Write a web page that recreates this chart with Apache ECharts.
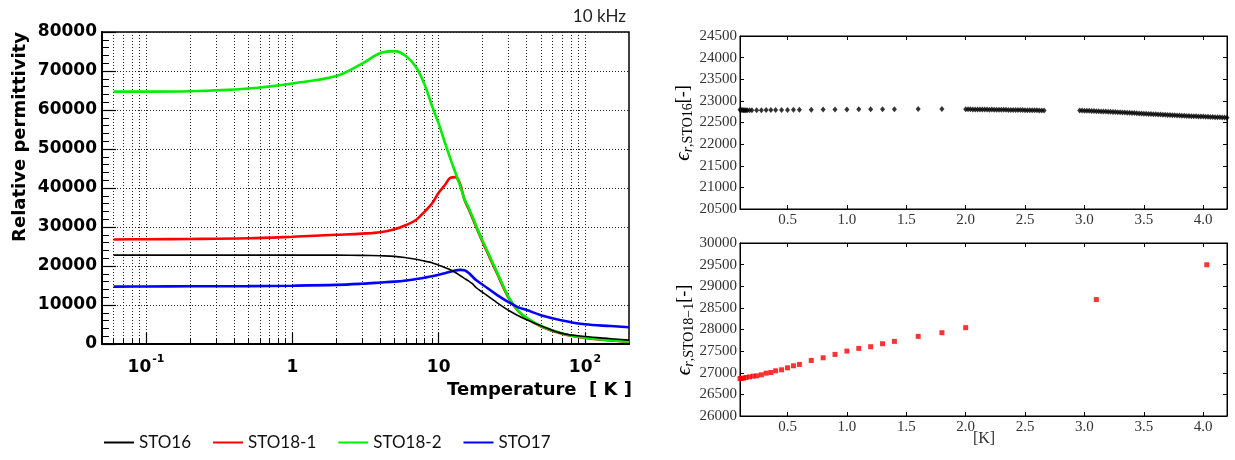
<!DOCTYPE html>
<html>
<head>
<meta charset="utf-8">
<script src="https://cdn.jsdelivr.net/npm/echarts@6/dist/echarts.min.js"></script>
<style>
  html, body { margin: 0; padding: 0; background: #fff; }
  #chart { width: 1235px; height: 460px; }
</style>
</head>
<body>
<div id="chart"></div>
<script>
// ---- Relative permittivity vs temperature, 10 kHz (log temperature axis) ----
const tempK = [0.06, 0.1, 0.2, 0.5, 1, 2, 3, 4, 5, 6, 7, 8, 9, 10, 11, 12, 13, 14, 15, 16, 17, 18, 20, 25, 30, 35, 40, 50, 70, 100, 150, 200];
const sto16 = [22800, 22800, 22800, 22800, 22800, 22780, 22720, 22620, 22480, 22120, 21710, 21250, 20840, 20200, 19610, 19060, 18340, 17560, 16840, 16170, 15470, 14490, 13230, 10630, 8650, 7240, 6200, 4680, 2720, 1910, 1360, 1000];
const sto18_1 = [26800, 26870, 26920, 27100, 27500, 28000, 28300, 28650, 29400, 30500, 31800, 33900, 36000, 38800, 40700, 42600, 42800, 41100, 37000, 34700, 32400, 30100, 26100, 18200, 11900, 8400, 6600, 4500, 2650, 1550, 900, 580];
const sto18_2 = [64700, 64700, 64800, 65500, 66800, 68700, 71900, 74600, 75100, 73800, 71000, 66600, 61100, 56500, 51800, 47600, 44000, 40600, 37200, 35000, 32700, 30400, 26400, 18500, 12100, 8500, 6700, 4600, 2700, 1600, 950, 600];
const sto17 = [14700, 14750, 14800, 14850, 14950, 15150, 15450, 15750, 16000, 16300, 16650, 17000, 17350, 17750, 18150, 18550, 18850, 19000, 18900, 18250, 17300, 16400, 15200, 12600, 10750, 9400, 8700, 7400, 6050, 5050, 4600, 4300];

const seriesNames = ['STO16', 'STO18-1', 'STO18-2', 'STO17'];
const decadeTicks = [0.1, 1, 10, 100];
const minorTicks = [0.06, 0.07, 0.08, 0.09, 0.2, 0.3, 0.4, 0.5, 0.6, 0.7, 0.8, 0.9,
  2, 3, 4, 5, 6, 7, 8, 9, 20, 30, 40, 50, 60, 70, 80, 90];

// ---- Low-temperature detail: STO16 ----
const sto16LowT = [0.10, 0.11, 0.12, 0.13, 0.14, 0.15, 0.16, 0.18, 0.20, 0.24, 0.28, 0.32, 0.36, 0.40, 0.45, 0.50, 0.55, 0.60, 0.70, 0.80, 0.90, 1.00, 1.10, 1.20, 1.30, 1.40, 1.60, 1.80,
  2.00, 2.02, 2.04, 2.06, 2.08, 2.10, 2.12, 2.14, 2.16, 2.18, 2.20, 2.22, 2.24, 2.26, 2.28, 2.30, 2.32, 2.34, 2.36, 2.38, 2.40, 2.42, 2.44, 2.46, 2.48, 2.50, 2.52, 2.54, 2.56, 2.58, 2.60, 2.62, 2.64, 2.66,
  2.96, 2.98, 3.00, 3.02, 3.04, 3.06, 3.08, 3.10, 3.12, 3.14, 3.16, 3.18, 3.20, 3.22, 3.24, 3.26, 3.28, 3.30, 3.32, 3.34, 3.36, 3.38, 3.40, 3.42, 3.44, 3.46, 3.48, 3.50, 3.52, 3.54, 3.56, 3.58, 3.60,
  3.62, 3.64, 3.66, 3.68, 3.70, 3.72, 3.74, 3.76, 3.78, 3.80, 3.82, 3.84, 3.86, 3.88, 3.90, 3.92, 3.94, 3.96, 3.98, 4.00, 4.02, 4.04, 4.06, 4.08, 4.10, 4.12, 4.14, 4.16, 4.18, 4.20];
const sto16LowEps = [22795, 22790, 22788, 22786, 22785, 22784, 22784, 22784, 22784, 22785, 22786, 22787, 22788, 22789, 22790, 22791, 22792, 22793, 22796, 22798, 22801, 22803, 22805, 22806, 22807, 22808, 22810, 22810,
  22805, 22806, 22804, 22803, 22803, 22801, 22802, 22800, 22799, 22799, 22797, 22798, 22796, 22795, 22796, 22794, 22793, 22793, 22791, 22790, 22791, 22789, 22788, 22787, 22787, 22785, 22784, 22784, 22782, 22781, 22781, 22779, 22778, 22777,
  22777, 22775, 22774, 22771, 22770, 22766, 22765, 22762, 22760, 22757, 22755, 22752, 22750, 22746, 22745, 22741, 22739, 22735, 22733, 22729, 22727, 22723, 22721, 22717, 22715, 22710, 22708, 22704, 22702, 22698, 22696, 22692, 22690,
  22686, 22684, 22680, 22678, 22674, 22672, 22668, 22667, 22663, 22661, 22657, 22656, 22652, 22651, 22647, 22646, 22642, 22641, 22637, 22636, 22633, 22631, 22628, 22627, 22623, 22622, 22619, 22618, 22615, 22612];

// ---- Low-temperature detail: STO18-1 ----
const sto18LowT = [0.10, 0.11, 0.13, 0.15, 0.18, 0.21, 0.24, 0.28, 0.32, 0.36, 0.40, 0.45, 0.50, 0.55, 0.60, 0.70, 0.80, 0.90, 1.00, 1.10, 1.20, 1.30, 1.40, 1.60, 1.80, 2.00, 3.10, 4.03];
const sto18LowEps = [26865, 26867, 26875, 26890, 26905, 26921, 26928, 26952, 26990, 27006, 27045, 27068, 27114, 27161, 27192, 27284, 27346, 27424, 27501, 27563, 27602, 27671, 27725, 27841, 27926, 28043, 28692, 29497];
const lowTTicks = [0.5, 1.0, 1.5, 2.0, 2.5, 3.0, 3.5, 4.0];

const colors = { STO16: '#000000', 'STO18-1': '#ff0000', 'STO18-2': '#00ee00', STO17: '#0000ff' };

function pairs(xs, ys) { return xs.map((x, i) => [x, ys[i]]); }
const plain = v => String(v);

const dotted = { show: true, lineStyle: { color: '#222', width: 1, type: [1, 2] } };
const serif = '"Liberation Serif", "DejaVu Serif", serif';
const boldSans = '"DejaVu Sans", sans-serif';

function lowTXAxis(gridIndex, position) {
  const bottom = position === 'bottom';
  return {
    gridIndex, type: 'value', min: 0.1, max: 4.2, position,
    axisLine: { show: true, lineStyle: { color: '#000', width: 1 } },
    axisTick: { show: true, inside: true, length: 4, customValues: lowTTicks, lineStyle: { color: '#000' } },
    axisLabel: { show: bottom, customValues: lowTTicks, formatter: v => v.toFixed(1),
      fontFamily: serif, fontSize: 15, color: '#333', margin: 4 },
    splitLine: { show: false }
  };
}
function lowTYAxis(gridIndex, position, min, max) {
  const left = position === 'left';
  return {
    gridIndex, type: 'value', min, max, interval: 500, position,
    axisLine: { show: true, lineStyle: { color: '#000', width: 1 } },
    axisTick: { show: true, inside: true, length: 4, lineStyle: { color: '#000' } },
    axisLabel: { show: left, formatter: plain, fontFamily: serif, fontSize: 15, color: '#333', margin: 3 },
    splitLine: { show: false }
  };
}

const mainSeries = [sto16, sto18_1, sto18_2, sto17].map((vals, i) => ({
  name: seriesNames[i], type: 'line', xAxisIndex: 0, yAxisIndex: 0,
  data: pairs(tempK, vals), smooth: 0.35, showSymbol: false, symbol: 'none',
  lineStyle: { color: colors[seriesNames[i]], width: i === 0 ? 1.6 : 2.6 },
  itemStyle: { color: colors[seriesNames[i]] }, z: i === 0 ? 4 : 3
}));

const subTitleRich = {
  e: { fontFamily: serif, fontStyle: 'italic', fontSize: 21, lineHeight: 24, color: '#333', verticalAlign: 'middle' },
  s: { fontFamily: serif, fontStyle: 'italic', fontSize: 14, lineHeight: 15, color: '#333', verticalAlign: 'bottom' },
  t: { fontFamily: serif, fontSize: 14, lineHeight: 15, color: '#333', verticalAlign: 'bottom' },
  b: { fontFamily: serif, fontSize: 18, lineHeight: 24, color: '#333', verticalAlign: 'middle' }
};

const option = {
  animation: false,
  backgroundColor: '#fff',
  grid: [
    { left: 102, top: 32, width: 527, height: 312, show: true, borderColor: '#000', borderWidth: 1.5, backgroundColor: 'transparent' },
    { left: 740, top: 36, width: 487, height: 173, show: true, borderColor: '#000', borderWidth: 1 },
    { left: 740, top: 243, width: 487, height: 173, show: true, borderColor: '#000', borderWidth: 1 }
  ],
  xAxis: [
    {
      gridIndex: 0, type: 'log', logBase: 10, min: 0.05, max: 200, position: 'bottom',
      axisLine: { show: true, lineStyle: { color: '#000', width: 2 } },
      axisTick: { show: true, inside: true, length: 11, customValues: decadeTicks, lineStyle: { color: '#000', width: 1.2 } },
      axisLabel: {
        customValues: decadeTicks, margin: 10,
        formatter: v => {
          const p = Math.round(Math.log10(v));
          if (p === 0) return '{b|1}';
          if (p === 1) return '{b|10}';
          return '{b|10}{s|' + p + '}';
        },
        rich: {
          b: { fontFamily: boldSans, fontWeight: 'bold', fontSize: 17, color: '#000', lineHeight: 22, verticalAlign: 'bottom' },
          s: { fontFamily: boldSans, fontWeight: 'bold', fontSize: 11, color: '#000', lineHeight: 22, verticalAlign: 'top', padding: [0, 0, 0, 1] }
        }
      },
      splitLine: dotted
    },
    {
      gridIndex: 0, type: 'log', logBase: 10, min: 0.05, max: 200, position: 'bottom',
      axisLine: { show: false },
      axisTick: { show: true, inside: true, length: 6, customValues: minorTicks, lineStyle: { color: '#000', width: 1 } },
      axisLabel: { show: false },
      splitLine: dotted
    },
    lowTXAxis(1, 'bottom'), lowTXAxis(1, 'top'),
    lowTXAxis(2, 'bottom'), lowTXAxis(2, 'top')
  ],
  yAxis: [
    {
      gridIndex: 0, type: 'value', min: 0, max: 80000, interval: 10000,
      axisLine: { show: true, lineStyle: { color: '#000', width: 2 } },
      axisTick: { show: true, inside: true, length: 14, lineStyle: { color: '#000', width: 1.2 } },
      minorTick: { show: true, splitNumber: 5, length: 7, lineStyle: { color: '#000', width: 1 } },
      axisLabel: { formatter: plain, fontFamily: boldSans, fontWeight: 'bold', fontSize: 17, color: '#000', margin: 5 },
      splitLine: dotted
    },
    lowTYAxis(1, 'left', 20500, 24500), lowTYAxis(1, 'right', 20500, 24500),
    lowTYAxis(2, 'left', 26000, 30000), lowTYAxis(2, 'right', 26000, 30000)
  ],
  legend: {
    data: seriesNames, left: 99, top: 429, orient: 'horizontal',
    icon: 'rect', itemWidth: 30, itemHeight: 2, itemGap: 22, selectedMode: false,
    textStyle: { fontFamily: 'Lato', fontSize: 17, color: '#111' }
  },
  graphic: [
    { type: 'text', x: 20, y: 137, rotation: Math.PI / 2,
      style: { text: 'Relative permittivity', font: 'bold 18px "DejaVu Sans", sans-serif', fill: '#000', align: 'center', verticalAlign: 'middle' } },
    { type: 'text', x: 632, y: 390,
      style: { text: 'Temperature  [ K ]', font: 'bold 18px "DejaVu Sans", sans-serif', fill: '#000', align: 'right', verticalAlign: 'middle' } },
    { type: 'text', x: 626, y: 17,
      style: { text: '10 kHz', font: '17px Lato, sans-serif', fill: '#222', align: 'right', verticalAlign: 'middle' } },
    { type: 'text', x: 683, y: 123, rotation: Math.PI / 2,
      style: { text: '{e|ϵ}{s|r}{t|,STO16}{b|[-]}', align: 'center', verticalAlign: 'middle', rich: subTitleRich } },
    { type: 'text', x: 684, y: 330, rotation: Math.PI / 2,
      style: { text: '{e|ϵ}{s|r}{t|,STO18−1}{b|[-]}', align: 'center', verticalAlign: 'middle', rich: subTitleRich } },
    { type: 'text', x: 984, y: 439,
      style: { text: '[K]', font: '16px "Liberation Serif", serif', fill: '#333', align: 'center', verticalAlign: 'middle' } }
  ],
  series: mainSeries.concat([
    {
      name: 'STO16 low T', type: 'scatter', xAxisIndex: 2, yAxisIndex: 1,
      data: pairs(sto16LowT, sto16LowEps), symbol: 'diamond', symbolSize: [5, 6],
      itemStyle: { color: '#000' }, emphasis: { disabled: true }
    },
    {
      name: 'STO18-1 low T', type: 'scatter', xAxisIndex: 4, yAxisIndex: 3,
      data: pairs(sto18LowT, sto18LowEps), symbol: 'rect', symbolSize: 5,
      itemStyle: { color: '#ff0000' }, emphasis: { disabled: true }
    }
  ])
};

const chart = echarts.init(document.getElementById('chart'), null, { renderer: 'canvas' });
chart.setOption(option);
</script>
</body>
</html>
